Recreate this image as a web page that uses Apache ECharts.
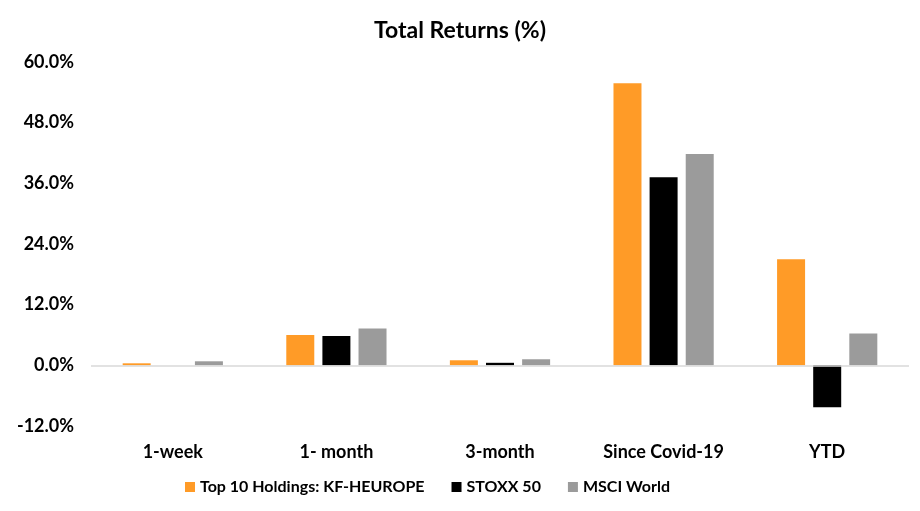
<!DOCTYPE html>
<html>
<head>
<meta charset="utf-8">
<script src="https://cdn.jsdelivr.net/npm/echarts@6/dist/echarts.min.js"></script>
<style>html,body{margin:0;padding:0;background:#fff}#c{width:920px;height:511px}</style>
</head>
<body>
<div id="c"></div>
<script>
var categories = ['1-week', '1- month', '3-month', 'Since Covid-19', 'YTD'];
var seriesNames = ['Top 10 Holdings: KF-HEUROPE', 'STOXX 50', 'MSCI World'];
var kfHeurope = [0.4, 6.0, 1.0, 55.8, 21.0];
var stoxx50 = [0.0, 5.8, 0.5, 37.2, -8.3];
var msciWorld = [0.8, 7.3, 1.2, 41.8, 6.3];
var yTicks = [-12, 0, 12, 24, 36, 48, 60];

var FONT = 'Lato, "Open Sans", sans-serif';
var colors = ['#FF9B27', '#000000', '#9B9B9B'];
var data = [kfHeurope, stoxx50, msciWorld];

var chart = echarts.init(document.getElementById('c'));
var series = seriesNames.map(function (n, i) {
  var s = {
    name: n,
    type: 'bar',
    data: data[i],
    barWidth: 28,
    barGap: '29%',
    itemStyle: { color: colors[i] },
    emphasis: { disabled: true }
  };
  if (i === 0) {
    s.markLine = {
      silent: true,
      symbol: 'none',
      label: { show: false },
      lineStyle: { color: '#D9D9D9', type: 'solid', width: 1.5 },
      data: [{ yAxis: 0 }],
      animation: false
    };
  }
  return s;
});

chart.setOption({
  animation: false,
  color: colors,
  title: {
    text: 'Total Returns (%)',
    left: 'center',
    top: 14,
    textStyle: { fontFamily: FONT, fontSize: 23, fontWeight: 'bold', color: '#000' }
  },
  legend: {
    data: seriesNames,
    bottom: 11,
    left: 180,
    icon: 'rect',
    itemWidth: 10,
    itemHeight: 10,
    itemGap: 27,
    textStyle: { fontFamily: FONT, fontSize: 16, fontWeight: 'bold', color: '#000' }
  },
  grid: { left: 91, right: 11, top: 62, bottom: 85 },
  xAxis: {
    type: 'category',
    data: categories,
    axisLine: { show: false, onZero: false },
    axisTick: { show: false },
    axisLabel: { margin: 17, fontFamily: FONT, fontSize: 18, fontWeight: 'bold', color: '#000' }
  },
  yAxis: {
    type: 'value',
    min: yTicks[0],
    max: yTicks[yTicks.length - 1],
    interval: 12,
    splitLine: { show: false },
    axisLine: { show: false },
    axisTick: { show: false },
    axisLabel: {
      margin: 17,
      fontFamily: FONT, fontSize: 18, fontWeight: 'bold', color: '#000',
      formatter: function (v) { return v.toFixed(1) + '%'; }
    }
  },
  series: series
});
</script>
</body>
</html>
